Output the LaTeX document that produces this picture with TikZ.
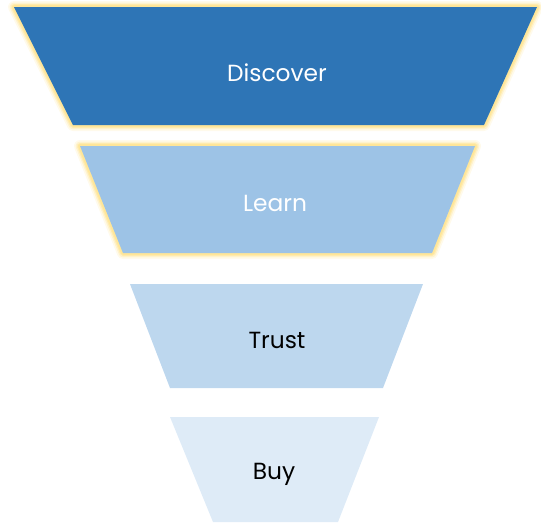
\documentclass[tikz,border=0pt]{standalone}
\usepackage{fontspec}
\setmainfont{Poppins}
\definecolor{cDisc}{HTML}{2E75B6}
\definecolor{cLearn}{HTML}{9DC3E6}
\definecolor{cTrust}{HTML}{BDD7EE}
\definecolor{cBuy}{HTML}{DEEBF7}
\definecolor{cGlow}{HTML}{FFE699}
\tikzset{
  glowA/.style={draw=cGlow, line width=9pt, line join=round, opacity=0.2},
  glowB/.style={draw=cGlow, line width=6.5pt, line join=round, opacity=0.35},
  glowC/.style={draw=cGlow, line width=4.5pt, line join=round, opacity=0.6},
  glowD/.style={draw=cGlow, line width=2.8pt, line join=round},
  lbl/.style={font=\fontsize{17.5}{20}\selectfont, inner sep=0pt}
}
\begin{document}
\begin{tikzpicture}[x=0.75pt, y=-0.75pt]
\useasboundingbox (0,0) rectangle (541,522);
% Discover
\foreach \s in {glowA,glowB,glowC,glowD}{
  \path[\s] (14,7) -- (537,7) -- (484,125) -- (73,125) -- cycle;
}
\fill[cDisc] (14,7) -- (537,7) -- (484,125) -- (73,125) -- cycle;
% Learn
\foreach \s in {glowA,glowB,glowC,glowD}{
  \path[\s] (80,146) -- (475,146) -- (432,253) -- (123,253) -- cycle;
}
\fill[cLearn] (80,146) -- (475,146) -- (432,253) -- (123,253) -- cycle;
% Trust
\fill[cTrust] (130,284) -- (423,284) -- (383,388) -- (170,388) -- cycle;
% Buy
\fill[cBuy] (170,417) -- (379,417) -- (338,522) -- (213,522) -- cycle;
\node[lbl, text=white] (disc) at (277,73) {Discover};
\node[lbl, text=white] (learn) at (275,203) {Learn};
\node[lbl, text=black] (trust) at (277,340) {Trust};
\node[lbl, text=black] (buy) at (274,474) {Buy};
\end{tikzpicture}
\end{document}
